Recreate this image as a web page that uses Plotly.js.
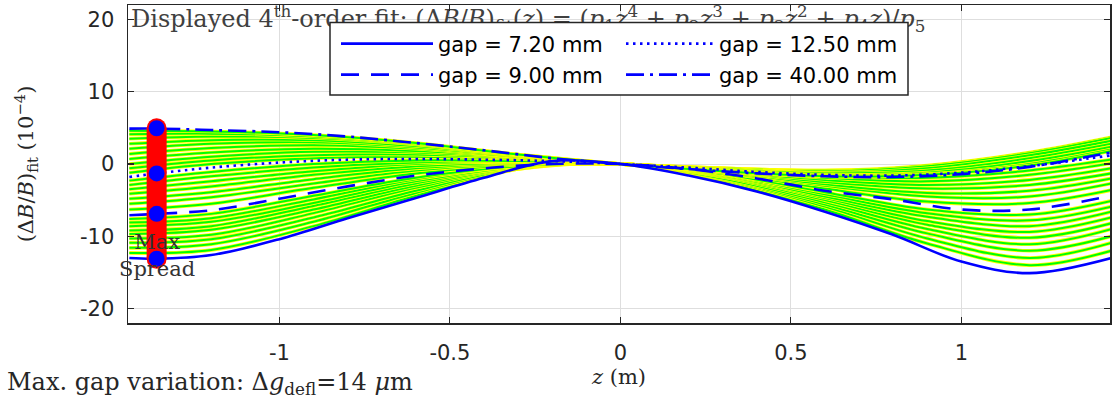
<!DOCTYPE html>
<html><head><meta charset="utf-8">
<script src="https://cdn.plot.ly/plotly-3.0.1.min.js"></script>
<style>html,body{margin:0;padding:0;background:#fff}</style>
</head><body><div id="chart" style="width:1112px;height:402px"></div>
<script>
// ---- data (units 1e-4) ----
const zBlue = [-1.44, -1.36, -1.2, -1.0, -0.8, -0.6, -0.4, -0.2, 0, 0.2, 0.4, 0.6, 0.8, 1.0, 1.2, 1.44];
const fitGap720  = [-13.0, -13.1, -12.6, -10.4, -7.5, -4.7, -1.9, 0.4, 0.0, -1.6, -3.8, -6.6, -9.8, -13.5, -15.1, -13.0];
const fitGap900  = [-7.1, -6.9, -6.4, -4.8, -3.1, -1.6, -0.6, 0.0, 0.0, -0.7, -2.0, -3.7, -4.9, -6.3, -6.3, -4.4];
const fitGap1250 = [-1.8, -1.3, -0.5, 0.2, 0.6, 0.7, 0.6, 0.4, 0.0, -0.5, -1.1, -1.5, -1.6, -1.2, -0.3, 1.2];
const fitGap4000 = [4.9, 4.9, 4.7, 4.4, 3.8, 2.9, 1.9, 0.8, 0.0, -0.7, -1.3, -1.7, -1.8, -1.4, -0.4, 1.6];
const legendNames = ['gap = 7.20 mm', 'gap = 9.00 mm', 'gap = 12.50 mm', 'gap = 40.00 mm'];

const zFamily = [-1.44, -1.2, -0.9, -0.6, -0.3, 0, 0.3, 0.6, 0.9, 1.2, 1.44];
const familyFits = [
  [-12.3, -11.9, -8.6, -4.4, -0.7, 0, -2.4, -6.3, -11.0, -14.0, -12.0],
  [-11.6, -11.1, -8.0, -4.0, -0.7, 0, -2.2, -5.9, -10.3, -13.0, -10.9],
  [-10.9, -10.4, -7.4, -3.7, -0.6, 0, -2.1, -5.6, -9.6, -12.0, -10.0],
  [-10.3, -9.8, -6.8, -3.3, -0.5, 0, -2.0, -5.3, -9.0, -11.1, -9.0],
  [-9.7, -9.1, -6.3, -3.0, -0.5, 0, -1.8, -5.0, -8.4, -10.2, -8.2],
  [-9.2, -8.6, -5.8, -2.7, -0.4, 0, -1.7, -4.7, -7.9, -9.4, -7.4],
  [-8.6, -8.0, -5.4, -2.4, -0.4, 0, -1.6, -4.5, -7.3, -8.6, -6.6],
  [-8.1, -7.5, -4.9, -2.1, -0.3, 0, -1.5, -4.2, -6.8, -7.8, -5.9],
  [-7.6, -6.9, -4.4, -1.9, -0.3, 0, -1.4, -3.9, -6.3, -7.0, -5.1],
  [-6.3, -5.5, -3.3, -1.3, -0.1, 0, -1.2, -3.4, -5.2, -5.4, -3.6],
  [-5.5, -4.6, -2.7, -0.9, 0.0, 0, -1.2, -3.0, -4.5, -4.5, -2.7],
  [-4.8, -3.9, -2.1, -0.6, 0.1, 0, -1.1, -2.8, -4.0, -3.7, -2.0],
  [-4.1, -3.1, -1.5, -0.3, 0.2, 0, -1.0, -2.5, -3.4, -2.9, -1.3],
  [-3.5, -2.4, -1.0, 0.0, 0.3, 0, -1.0, -2.2, -2.9, -2.2, -0.6],
  [-2.9, -1.7, -0.5, 0.2, 0.4, 0, -0.9, -1.9, -2.4, -1.5, 0.1],
  [-2.3, -1.1, 0.0, 0.5, 0.4, 0, -0.9, -1.7, -1.9, -0.9, 0.6],
  [-1.2, 0.0, 0.8, 1.0, 0.7, 0, -0.7, -1.2, -0.9, 0.6, 2.2],
  [-0.6, 0.5, 1.2, 1.3, 0.8, 0, -0.6, -1.0, -0.6, 1.0, 2.8],
  [0.0, 1.0, 1.7, 1.6, 0.9, 0, -0.6, -0.9, -0.4, 1.4, 3.3],
  [0.7, 1.6, 2.1, 1.8, 1.0, 0, -0.6, -0.9, -0.2, 1.6, 3.7],
  [1.4, 2.2, 2.6, 2.1, 1.0, 0, -0.7, -1.0, -0.3, 1.5, 3.6],
  [2.1, 2.8, 3.0, 2.3, 1.1, 0, -0.7, -1.2, -0.6, 1.2, 3.2],
  [2.8, 3.3, 3.3, 2.5, 1.2, 0, -0.8, -1.3, -0.9, 0.8, 2.8],
  [3.5, 3.8, 3.6, 2.7, 1.2, 0, -0.9, -1.5, -1.2, 0.4, 2.4],
  [4.1, 4.2, 3.8, 2.8, 1.3, 0, -0.9, -1.6, -1.4, 0.0, 2.0],
  [4.6, 4.5, 4.0, 2.9, 1.3, 0, -1.0, -1.7, -1.5, -0.2, 1.8]
];

const spreadZ = -1.36;
const spreadValues = [4.95, -1.3, -6.9, -13.1];
const xTickVals = [-1, -0.5, 0, 0.5, 1];
const xTickText = ['-1', '-0.5', '0', '0.5', '1'];
const yTickVals = [-20, -10, 0, 10, 20];
const yTickText = ['-20', '-10', '0', '10', '20'];
const headerText = 'Displayed 4<sup>th</sup>-order fit: (Δ<i>B</i>/<i>B</i>)<sub>fit</sub>(<i>z</i>) = (<i>p</i><sub>1</sub><i>z</i><sup>4</sup> + <i>p</i><sub>2</sub><i>z</i><sup>3</sup> + <i>p</i><sub>3</sub><i>z</i><sup>2</sup> + <i>p</i><sub>4</sub><i>z</i>)/<i>p</i><sub>5</sub>';
const headerPos = {z: -1.435, v: 19.8};

// ---- traces ----
const traces = [];
// header text drawn inside the axes (sits under the legend box)
traces.push({x: [headerPos.z], y: [headerPos.v], mode: 'text', text: [headerText], textposition: 'middle right',
  textfont: {family: 'DejaVu Serif', size: 24, color: '#404040'}, showlegend: false, hoverinfo: 'skip'});
familyFits.forEach(v => {
  traces.push({x: zFamily, y: v, mode: 'lines', line: {color: '#ffff00', width: 3.6, shape: 'spline'}, showlegend: false, hoverinfo: 'skip'});
  traces.push({x: zFamily, y: v, mode: 'lines', line: {color: '#00ff00', width: 2, shape: 'spline'}, showlegend: false, hoverinfo: 'skip'});
});
const blue = '#0000ff';
const blueSets = [
  {y: fitGap4000, dash: '18px,6px,3px,6px', name: legendNames[3], legend: 'legend4'},
  {y: fitGap1250, dash: '2.5px,4.5px', name: legendNames[2], legend: 'legend2'},
  {y: fitGap900, dash: '18px,12px', name: legendNames[1], legend: 'legend3'},
  {y: fitGap720, dash: 'solid', name: legendNames[0], legend: 'legend'}
];
blueSets.forEach(b => {
  traces.push({x: zBlue, y: b.y, mode: 'lines', name: b.name, legend: b.legend,
    line: {color: blue, width: 2.6, dash: b.dash, shape: 'spline'}});
});
// max spread bar
const barZ = spreadValues.map(() => spreadZ);
traces.push({x: [spreadZ, spreadZ], y: [Math.max(...spreadValues), Math.min(...spreadValues)], mode: 'lines+markers',
  line: {color: '#ff0000', width: 20}, marker: {color: '#ff0000', size: 20, symbol: 'circle'}, showlegend: false, hoverinfo: 'skip'});
traces.push({x: barZ, y: spreadValues, mode: 'markers', marker: {color: blue, size: 16, symbol: 'circle'}, showlegend: false});

const axisCommon = {
  showline: true, mirror: 'ticks', linecolor: '#262626', linewidth: 1.5,
  ticks: 'inside', ticklen: 6, tickcolor: '#262626', tickwidth: 1.2,
  showgrid: true, gridcolor: '#dedede', gridwidth: 1, zeroline: false,
  tickfont: {family: 'DejaVu Sans', size: 21, color: '#262626'}
};
const legendCommon = {
  orientation: 'v', xanchor: 'left', yanchor: 'middle', bgcolor: 'rgba(0,0,0,0)', borderwidth: 0,
  font: {family: 'DejaVu Sans', size: 21, color: '#000000'}
};
const pxX = p => (p - 128) / 982;
const pxY = p => (323 - p) / 318;

const layout = {
  width: 1112, height: 402,
  margin: {l: 128, r: 2, t: 5, b: 79},
  paper_bgcolor: '#ffffff', plot_bgcolor: '#ffffff',
  showlegend: true,
  xaxis: Object.assign({}, axisCommon, {
    range: [-1.444, 1.436], tickvals: xTickVals, ticktext: xTickText, ticklabelstandoff: 10,
    title: {text: '<i>z</i> (m)', standoff: 4, font: {family: 'DejaVu Serif', size: 21, color: '#262626'}}
  }),
  yaxis: Object.assign({}, axisCommon, {
    range: [-22, 22], tickvals: yTickVals, ticktext: yTickText, ticklabelstandoff: 8,
    title: {text: '(Δ<i>B</i>/<i>B</i>)<sub>fit</sub> (10<sup>−4</sup>)', standoff: 40, font: {family: 'DejaVu Serif', size: 21, color: '#262626'}}
  }),
  legend:  Object.assign({}, legendCommon, {x: pxX(336), y: pxY(44), itemwidth: 92}),
  legend3: Object.assign({}, legendCommon, {x: pxX(336), y: pxY(75), itemwidth: 92}),
  legend2: Object.assign({}, legendCommon, {x: pxX(621), y: pxY(44), itemwidth: 88}),
  legend4: Object.assign({}, legendCommon, {x: pxX(621), y: pxY(75), itemwidth: 88}),
  shapes: [
    {type: 'rect', xref: 'paper', yref: 'paper', layer: 'above',
     x0: pxX(330), x1: pxX(908), y0: pxY(95), y1: pxY(22.5),
     fillcolor: '#ffffff', line: {color: '#262626', width: 1.5}}
  ],
  annotations: [
    {xref: 'x', yref: 'y', x: spreadZ, y: -12.6, xanchor: 'center', yanchor: 'middle', showarrow: false,
     text: 'Max<br>Spread', font: {family: 'DejaVu Serif', size: 21, color: '#333333'}},
    {xref: 'paper', yref: 'paper', x: pxX(5), y: pxY(383), xanchor: 'left', yanchor: 'middle', showarrow: false,
     text: 'Max. gap variation: Δ<i>g</i><sub>defl</sub>=14 <i>μ</i>m', font: {family: 'DejaVu Serif', size: 24, color: '#262626'}}
  ]
};

Plotly.newPlot('chart', traces, layout, {displayModeBar: false, staticPlot: true});
</script>
</body></html>
